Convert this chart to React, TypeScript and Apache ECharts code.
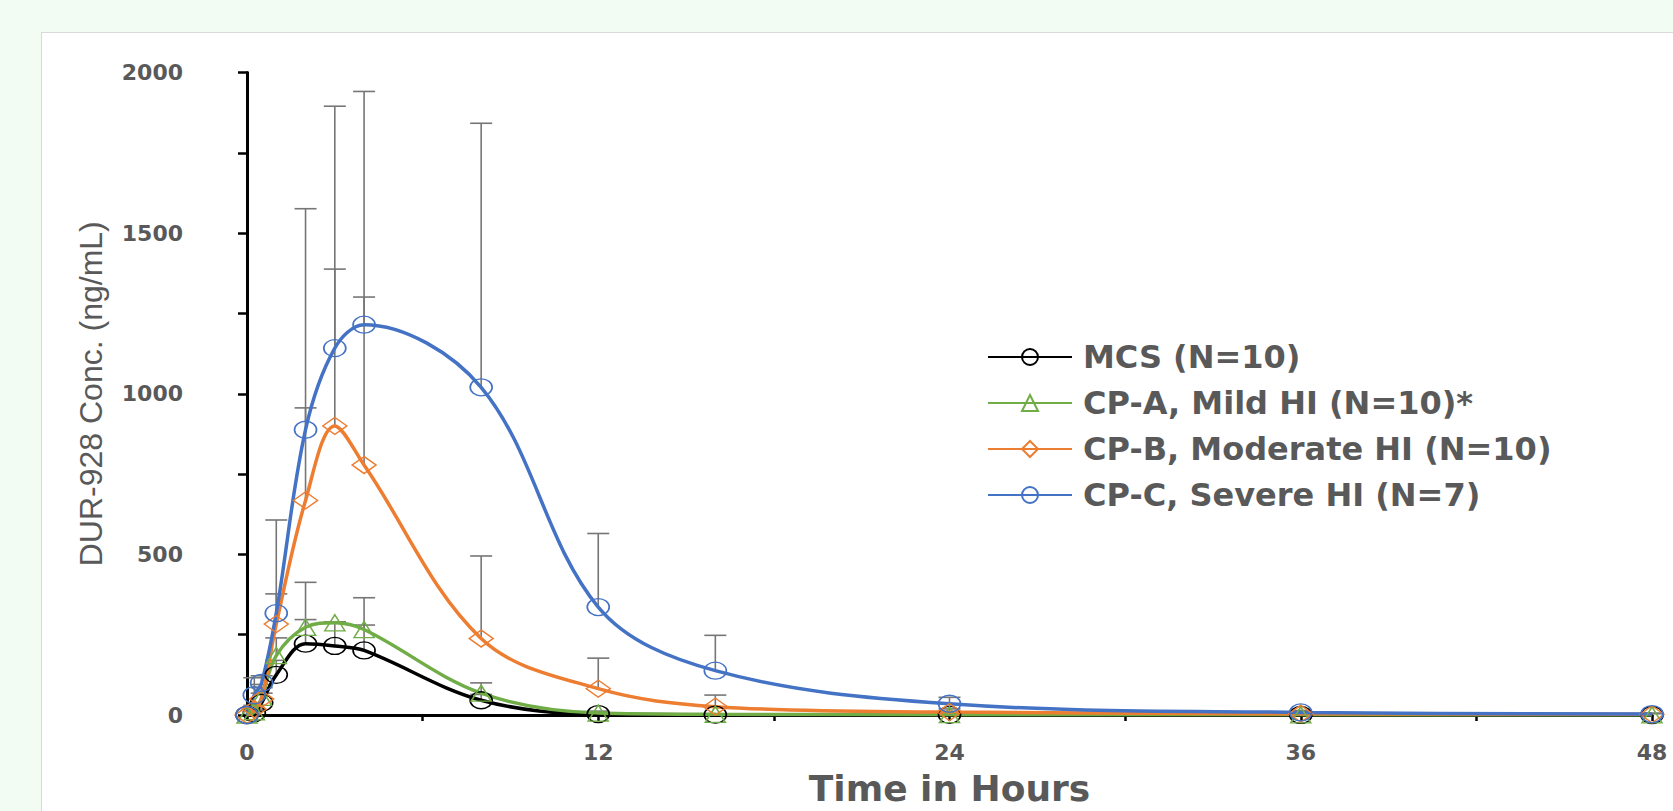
import React, { useEffect, useRef } from 'react';
import * as echarts from 'echarts';

// ---- data ----
const TIMES = [0, 0.25, 0.5, 1, 2, 3, 4, 8, 12, 16, 24, 36, 48];
const SERIES_NAMES = [
  'MCS (N=10)',
  'CP-A, Mild HI (N=10)*',
  'CP-B, Moderate HI (N=10)',
  'CP-C, Severe HI (N=7)',
];
const MCS_MEAN = [0, 6, 38, 125, 222, 215, 201, 46, 3, 1, 0.5, 0.2, 0.1];
const MCS_SD = [0, 6, 30, 45, 75, 75, 79, 18, 3, 1, 0, 0, 0];
const CPA_MEAN = [0, 10, 55, 185, 273, 287, 266, 68, 6, 2, 1, 0.4, 0.2];
const CPA_SD = [0, 8, 40, 55, 140, 3, 99, 32, 6, 2, 0, 0, 0];
const CPB_MEAN = [0, 18, 50, 283, 668, 900, 778, 238, 82, 26, 9, 4, 2];
const CPB_SD = [0, 12, 35, 94, 288, 488, 523, 257, 95, 36, 10, 3, 2];
const CPC_MEAN = [0, 62, 100, 317, 888, 1142, 1215, 1020, 336, 138, 35, 8, 3];
const CPC_SD = [0, 54, 22, 290, 688, 753, 726, 822, 229, 110, 20, 6, 3];

const X_LABELS = [0, 12, 24, 36, 48];
const Y_LABELS = [0, 500, 1000, 1500, 2000];

const MEANS = [MCS_MEAN, CPA_MEAN, CPB_MEAN, CPC_MEAN];
const SDS = [MCS_SD, CPA_SD, CPB_SD, CPC_SD];

// ---- styles ----
const COLORS = ['#000000', '#70ad47', '#ed7d31', '#4472c4'];
const ELLIPSE = 'path://M0,8.5A11,8.5,0,1,1,22,8.5A11,8.5,0,1,1,0,8.5Z';
const SYMBOLS = [ELLIPSE, 'triangle', 'diamond', ELLIPSE];
const SYMBOL_SIZES = [[22, 17], [20, 16], [24, 17], [22, 17]];
const TEXT_COLOR = '#595959';
const ERR_COLOR = '#767676';
const FONT = "'DejaVu Sans', Verdana, sans-serif";

function buildOption() {
  const lineSeries = MEANS.map((mean, s) => ({
    type: 'line',
    name: SERIES_NAMES[s],
    data: TIMES.map((t, i) => [t, mean[i]]),
    smooth: 0.35,
    symbol: SYMBOLS[s],
    symbolSize: SYMBOL_SIZES[s],
    showAllSymbol: true,
    z: 3,
    lineStyle: { color: COLORS[s], width: 3.5 },
    itemStyle: { color: 'rgba(0,0,0,0)', borderColor: COLORS[s], borderWidth: 1.5 },
    emphasis: { disabled: true },
  }));

  const errorSeries = MEANS.map((mean, s) => ({
    type: 'custom',
    name: SERIES_NAMES[s] + ' SD',
    z: 2,
    silent: true,
    encode: { x: 0, y: [1, 2] },
    data: TIMES.map((t, i) => [t, mean[i], mean[i] + SDS[s][i]]).filter(
      (d, i) => SDS[s][i] > 0
    ),
    renderItem: (params: any, api: any) => {
      const x = api.value(0);
      const lo = api.coord([x, api.value(1)]);
      const hi = api.coord([x, api.value(2)]);
      const style = { stroke: ERR_COLOR, lineWidth: 1.6 };
      return {
        type: 'group',
        children: [
          { type: 'line', shape: { x1: lo[0], y1: lo[1], x2: hi[0], y2: hi[1] }, style },
          { type: 'line', shape: { x1: hi[0] - 11, y1: hi[1], x2: hi[0] + 11, y2: hi[1] }, style },
        ],
      };
    },
  }));

  return {
    animation: false,
    backgroundColor: 'transparent',
    grid: { left: 247, right: 21, top: 72.5, bottom: 85.3 },
    legend: {
      data: SERIES_NAMES,
      orient: 'vertical',
      left: 982,
      top: 336,
      itemWidth: 84,
      itemHeight: 20,
      itemGap: 14,
      selectedMode: false,
      textStyle: {
        fontFamily: FONT,
        fontSize: 32,
        fontWeight: 'bold',
        color: TEXT_COLOR,
        lineHeight: 31,
        padding: [0, 0, 0, 6],
      },
    },
    xAxis: {
      type: 'value',
      min: 0,
      max: 48,
      interval: 6,
      name: 'Time in Hours',
      nameLocation: 'middle',
      nameGap: 55,
      nameTextStyle: {
        fontFamily: FONT,
        fontSize: 36,
        fontWeight: 'bold',
        color: TEXT_COLOR,
        lineHeight: 36,
      },
      axisLine: { show: true, onZero: false, lineStyle: { color: '#000', width: 3 } },
      axisTick: { show: true, length: 6, lineStyle: { color: '#000', width: 2.5 } },
      axisLabel: {
        margin: 26,
        fontFamily: FONT,
        fontSize: 22,
        fontWeight: 'bold',
        color: TEXT_COLOR,
        formatter: (v: number) => (X_LABELS.includes(v) ? String(v) : ''),
      },
      splitLine: { show: false },
    },
    yAxis: {
      type: 'value',
      min: 0,
      max: 2000,
      interval: 250,
      name: 'DUR-928 Conc. (ng/mL)',
      nameLocation: 'middle',
      nameGap: 140,
      nameTextStyle: {
        fontFamily: "'Liberation Sans Narrow', 'Liberation Sans', sans-serif",
        fontSize: 32,
        color: TEXT_COLOR,
        lineHeight: 32,
      },
      axisLine: { show: true, lineStyle: { color: '#000', width: 3 } },
      axisTick: { show: true, length: 9, lineStyle: { color: '#000', width: 2.5 } },
      axisLabel: {
        margin: 64,
        fontFamily: FONT,
        fontSize: 22,
        fontWeight: 'bold',
        color: TEXT_COLOR,
        formatter: (v: number) => (Y_LABELS.includes(v) ? String(v) : ''),
      },
      splitLine: { show: false },
    },
    series: [...errorSeries, ...lineSeries],
  };
}

export default function App() {
  const ref = useRef<HTMLDivElement>(null);
  useEffect(() => {
    const chart = echarts.init(ref.current!, null, { renderer: 'svg' });
    chart.setOption(buildOption() as any);
    return () => chart.dispose();
  }, []);
  return (
    <div
      style={{
        position: 'fixed',
        left: 0,
        top: 0,
        width: 1673,
        height: 811,
        background: '#f3fcf3',
        overflow: 'hidden',
      }}
    >
      <div
        style={{
          position: 'absolute',
          left: 41,
          top: 32,
          width: 1700,
          height: 850,
          background: '#ffffff',
          border: '1.5px solid #d9d9d9',
        }}
      />
      <div ref={ref} style={{ position: 'absolute', left: 0, top: 0, width: 1673, height: 811 }} />
    </div>
  );
}
